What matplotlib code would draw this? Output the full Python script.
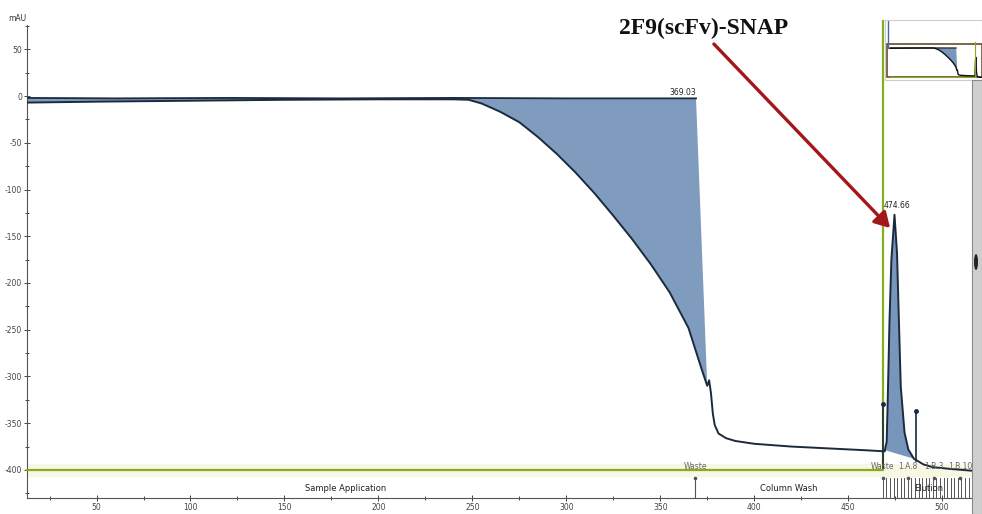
import matplotlib
matplotlib.use("Agg")
import matplotlib.pyplot as plt
from matplotlib.patches import Rectangle, FancyArrowPatch, Ellipse

# ---------------- data ----------------
# UV trace (mAU) vs volume (mL)
trace_x = [13, 50, 100, 150, 200, 240, 248, 255, 265, 275, 285, 295, 305, 315, 325, 335,
           345, 355, 365, 372, 375, 376, 377, 378, 379, 381, 385, 390, 400, 420, 440, 460,
           468.5, 469.5, 469.8, 470.5, 471, 472, 473, 474.66, 476, 477, 478, 480, 482,
           485, 490, 495, 505, 517]
trace_y = [-7, -6, -5, -4, -3.5, -3.5, -4, -8, -17, -28, -44, -62, -82, -104, -128, -153,
           -180, -210, -248, -292, -310, -304, -318, -340, -352, -361, -366, -369, -372, -375, -377, -379,
           -380, -380, -376, -370, -330, -240, -175, -127, -168, -240, -311, -360, -378,
           -388, -394, -397, -399, -401]

# integration baseline of the negative peak (ends at 369.03)
base1_x = [13, 60, 120, 180, 240, 300, 369.03, 375]
base1_y = [-2, -2.5, -2, -2.5, -2, -2.5, -2.5, -310]

# integration baseline of the elution peak (474.66)
base2_x = [469.8, 485]
base2_y = [-379, -388]

peak_lab = ["369.03", "474.66"]
peak_lab_x = [362, 476]
peak_lab_y = [-1, -122]

# concentration B (green)
concB_x = [13, 468.5, 468.5]
concB_y = [-400, -400, 80]

# run events
event_x = [468.5, 486.3]
event_top = [-329, -337]
event_bottom = [-398, -390]

# fractions
frac_edges = [468.5, 470.4, 472.3, 474.2, 476.1, 478.0, 479.9, 481.8, 483.7, 485.6, 487.5,
              489.4, 491.3, 493.2, 495.1, 497.0, 498.9, 500.8, 502.7, 504.6, 506.5, 508.4,
              510.3, 512.2, 514.1, 516.0]
frac_lab_x = [368.6, 468.5, 481.8, 495.6, 509.5]
frac_lab = ["Waste", "Waste", "1.A.8", "1.B.3", "1.B.10"]

# phases
phase_x = [182.5, 418.5, 493]
phase_lab = ["Sample Application", "Column Wash", "Elution"]

yticks = [50, 0, -50, -100, -150, -200, -250, -300, -350, -400]
xticks = [50, 100, 150, 200, 250, 300, 350, 400, 450, 500]

# ---------------- figure ----------------
W, H = 982, 514
fig = plt.figure(figsize=(W / 100, H / 100), dpi=100)
fig.patch.set_facecolor("white")

L, R, T, B = 27, 975, 25, 498
ax = fig.add_axes([L / W, 1 - B / H, (R - L) / W, (B - T) / H])
ax.set_xlim(13, 517.5)
ax.set_ylim(-430, 76)

line_c = "#1b2a3c"
fill_c = "#7896bb"
green = "#86ad1f"
tick_c = "#444444"

# light highlight band around the green line
ax.axhspan(-406, -394, xmin=0, xmax=1, color="#f7f7e4", zorder=0)

# negative peak fill (between baseline and trace)
n1 = trace_x.index(375)
poly1_x = base1_x + trace_x[:n1 + 1][::-1]
poly1_y = base1_y + trace_y[:n1 + 1][::-1]
ax.fill(poly1_x, poly1_y, color=fill_c, alpha=0.95, lw=0, zorder=2)
ax.plot(base1_x[:-1], base1_y[:-1], color=line_c, lw=1.3, zorder=3)

# elution peak fill
i0 = trace_x.index(469.8)
i1 = trace_x.index(485)
poly2_x = trace_x[i0:i1 + 1] + base2_x[::-1]
poly2_y = trace_y[i0:i1 + 1] + base2_y[::-1]
ax.fill(poly2_x, poly2_y, color=fill_c, lw=0, zorder=2)

# trace
ax.plot(trace_x, trace_y, color=line_c, lw=1.4, zorder=4)

# green concentration line
ax.plot(concB_x, concB_y, color=green, lw=1.6, zorder=3, clip_on=False)

# events
for ex, et, eb in zip(event_x, event_top, event_bottom):
    ax.plot([ex, ex], [eb, et], color=line_c, lw=1.2, zorder=5)
    ax.plot(ex, et, "o", color=line_c, ms=2.5, zorder=5)

# peak labels
for px_, pl, py in zip(peak_lab_x, peak_lab, peak_lab_y):
    ax.text(px_, py, pl, fontsize=5.5, ha="center", va="bottom", color="#222222", zorder=6)

# fractions
for fe in frac_edges:
    ax.plot([fe, fe], [-430, -409], color="#555555", lw=0.7, zorder=3, clip_on=False)
ax.plot([368.6, 368.6], [-430, -409], color="#555555", lw=0.8, zorder=3)
for fx, fl in zip(frac_lab_x, frac_lab):
    ax.plot(fx, -409, "o", color="#555555", ms=1.6, zorder=4)
    ax.text(fx, -401.5, fl, fontsize=5.5, ha="center", va="bottom", color="#666666", zorder=6)

for phx, phl in zip(phase_x, phase_lab):
    ax.text(phx, -420, phl, fontsize=6, ha="center", va="center", color="#222222", zorder=6)

# axes styling
for s in ["top", "right"]:
    ax.spines[s].set_visible(False)
for s in ["left", "bottom"]:
    ax.spines[s].set_color("#555555")
    ax.spines[s].set_linewidth(0.8)
ax.set_yticks(yticks)
ax.set_yticklabels([str(v) for v in yticks])
ax.set_xticks(xticks)
ax.set_xticklabels([str(v) for v in xticks])
ax.set_yticks([75, 25, -25, -75, -125, -175, -225, -275, -325, -375, -425], minor=True)
ax.set_xticks([25, 75, 125, 175, 225, 275, 325, 375, 425, 475], minor=True)
ax.tick_params(which="both", direction="inout", colors=tick_c, labelsize=5.5, pad=1.5)
ax.tick_params(which="major", length=4, width=0.7)
ax.tick_params(which="minor", length=3, width=0.7)
ax.text(-0.01, 1.005, "mAU", transform=ax.transAxes, fontsize=5.5, ha="center",
        va="bottom", color="#333333")

# title and arrow
fig.text(704 / W, 1 - 28 / H, "2F9(scFv)-SNAP", fontsize=17, fontweight="bold",
         family="Liberation Serif", ha="center", va="center", color="#111111")
arr = FancyArrowPatch((712 / W, 1 - 42 / H), (892 / W, 1 - 230 / H),
                      transform=fig.transFigure, arrowstyle="-|>,head_length=6,head_width=3.5",
                      mutation_scale=1.5, color="#a3171b", lw=2.4, zorder=10)
fig.patches.append(arr)

# scrollbar on right
fig.patches.append(Rectangle((972 / W, 0), 10 / W, 1 - 80 / H, transform=fig.transFigure,
                             facecolor="#cfcfcf", edgecolor="#8a8a8a", lw=0.8, zorder=1))
fig.patches.append(Ellipse((976 / W, 1 - 262 / H), 4 / W, 16 / H, transform=fig.transFigure,
                           facecolor="#222222", edgecolor="none", zorder=2))

# overview inset
iax = fig.add_axes([885 / W, 1 - 80 / H, 97 / W, 60 / H])
iax.set_xlim(-14, 508)
iax.set_ylim(-434, 374)
iax.fill(poly1_x, poly1_y, color=fill_c, lw=0)
iax.plot(trace_x, trace_y, color="#111111", lw=1.0)
iax.plot(base1_x[:-1], base1_y[:-1], color="#111111", lw=0.8)
iax.plot([2, 2], [-3, 360], color="#4a6a9a", lw=1.0)
iax.plot(concB_x, concB_y, color=green, lw=0.8)
iax.add_patch(Rectangle((0.02, 0.05), 0.98, 0.55, transform=iax.transAxes,
                        facecolor="none", edgecolor="#6b4a2a", lw=1.2))
iax.set_xticks([])
iax.set_yticks([])
for s in iax.spines.values():
    s.set_color("#cccccc")
    s.set_linewidth(0.8)

fig.savefig("out.png", dpi=100, facecolor="white")
